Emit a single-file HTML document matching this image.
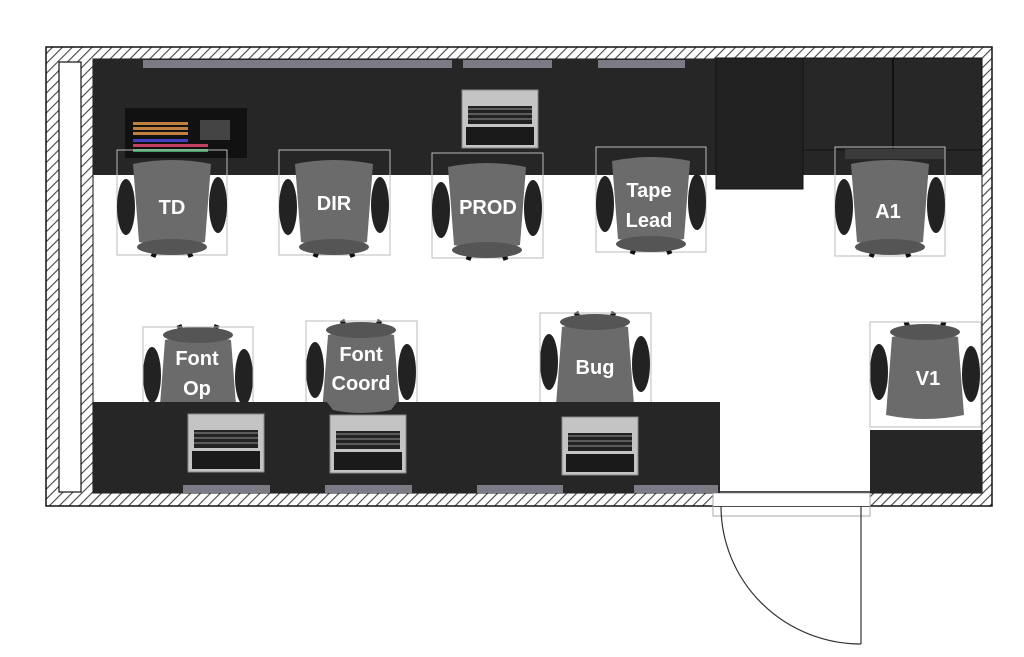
<!DOCTYPE html>
<html><head><meta charset="utf-8"><style>
html,body{margin:0;padding:0;background:#fff;}
svg{display:block;}
text{font-family:"Liberation Sans",sans-serif;fill:#fff;font-size:20px;font-weight:bold;text-anchor:middle;}
</style></head><body>
<svg width="1024" height="657" viewBox="0 0 1024 657" xmlns="http://www.w3.org/2000/svg">
<defs>
<pattern id="h" width="7" height="7" patternUnits="userSpaceOnUse" patternTransform="rotate(45)">
<rect width="7" height="7" fill="#fff"/><rect width="1.1" height="7" fill="#444"/>
</pattern>
<g id="chair">
<ellipse cx="9" cy="55" rx="9" ry="28" fill="#222"/>
<ellipse cx="101" cy="53" rx="9" ry="28" fill="#222"/>
<path d="M40,95 L36,105 M70,95 L74,105" stroke="#111" stroke-width="5"/>
<path d="M16,12 Q55,4 94,12 L88,90 Q55,98 22,90 Z" fill="#6b6b6b"/>
<ellipse cx="55" cy="95" rx="35" ry="8" fill="#555"/>
</g>
<g id="laptop">
<rect x="0" y="0" width="76" height="58" fill="#c4c4c4" stroke="#888" stroke-width="1"/>
<rect x="4" y="3" width="68" height="18" fill="#1a1a1a"/>
<rect x="6" y="24" width="64" height="18" fill="#222"/>
<g stroke="#bbb" stroke-width="0.8">
<line x1="6" y1="29" x2="70" y2="29"/><line x1="6" y1="34" x2="70" y2="34"/><line x1="6" y1="39" x2="70" y2="39"/>
</g>
</g>
</defs>
<rect x="46" y="47" width="946" height="459" fill="url(#h)" stroke="#111" stroke-width="1.5"/>
<rect x="93" y="59" width="889" height="434" fill="#fff" stroke="#111" stroke-width="1"/>
<rect x="59" y="62" width="22" height="430" fill="#fff" stroke="#111" stroke-width="1.2"/>
<rect x="713" y="492" width="157" height="14" fill="#fff"/>
<line x1="720" y1="492" x2="870" y2="492" stroke="#111" stroke-width="1.5"/>
<rect x="713" y="493" width="157" height="23" fill="none" stroke="#aaa" stroke-width="1"/>
<line x1="861" y1="506" x2="861" y2="644" stroke="#333" stroke-width="1.2"/>
<path d="M721,506 A140,138 0 0 0 861,644" fill="none" stroke="#333" stroke-width="1.2"/>
<rect x="93" y="59" width="889" height="116" fill="#262626"/>
<rect x="716" y="58" width="87" height="131" fill="#222" stroke="#111"/>
<rect x="803" y="58" width="179" height="92" fill="#272727" stroke="#111"/>
<line x1="893" y1="58" x2="893" y2="150" stroke="#111" stroke-width="2"/>
<rect x="845" y="149" width="100" height="10" fill="#3a3a3a"/>
<rect x="143" y="60" width="309" height="8" fill="#7b7b85"/>
<rect x="463" y="60" width="89" height="8" fill="#7b7b85"/>
<rect x="598" y="60" width="87" height="8" fill="#7b7b85"/>
<rect x="125" y="108" width="122" height="50" fill="#111"/>
<rect x="133" y="122" width="55" height="3" fill="#c08040"/>
<rect x="133" y="127" width="55" height="3" fill="#c08040"/>
<rect x="133" y="132" width="55" height="3" fill="#c08040"/>
<rect x="133" y="139" width="55" height="3" fill="#4040c0"/>
<rect x="133" y="144" width="75" height="3" fill="#c04060"/>
<rect x="133" y="149" width="75" height="3" fill="#40a060"/>
<rect x="200" y="120" width="30" height="20" fill="#444"/>
<use href="#laptop" transform="translate(538,148) rotate(180)"/>
<g fill="none" stroke="#bbb" stroke-width="1">
<rect x="117" y="150" width="110" height="105"/><rect x="279" y="150" width="111" height="105"/>
<rect x="432" y="153" width="111" height="105"/><rect x="596" y="147" width="110" height="105"/>
<rect x="835" y="147" width="110" height="109"/>
</g>
<use href="#chair" transform="translate(117,152)"/>
<use href="#chair" transform="translate(279,152)"/>
<use href="#chair" transform="translate(432,155)"/>
<use href="#chair" transform="translate(596,149)"/>
<use href="#chair" transform="translate(835,152)"/>
<text x="172" y="214">TD</text>
<text x="334" y="210">DIR</text>
<text x="488" y="214">PROD</text>
<text x="649" y="197">Tape</text>
<text x="649" y="227">Lead</text>
<text x="888" y="218">A1</text>
<use href="#chair" transform="translate(143,430) scale(1,-1)"/>
<use href="#chair" transform="translate(306,425) scale(1,-1)"/>
<use href="#chair" transform="translate(540,417) scale(1,-1)"/>
<use href="#chair" transform="translate(870,427) scale(1,-1)"/>
<g fill="none" stroke="#bbb" stroke-width="1">
<rect x="143" y="327" width="110" height="76"/><rect x="306" y="321" width="111" height="104"/>
<rect x="540" y="313" width="111" height="104"/><rect x="870" y="322" width="111" height="105"/>
</g>
<rect x="93" y="402" width="627" height="91" fill="#262626"/>
<path d="M327,402 L333,410 Q361,416 391,410 L397,402 Z" fill="#6b6b6b"/>
<rect x="870" y="430" width="112" height="63" fill="#262626"/>
<rect x="183" y="485" width="87" height="8" fill="#7b7b85"/>
<rect x="325" y="485" width="87" height="8" fill="#7b7b85"/>
<rect x="477" y="485" width="86" height="8" fill="#7b7b85"/>
<rect x="634" y="485" width="84" height="8" fill="#7b7b85"/>
<use href="#laptop" transform="translate(264,472) rotate(180)"/>
<use href="#laptop" transform="translate(406,473) rotate(180)"/>
<use href="#laptop" transform="translate(638,475) rotate(180)"/>
<text x="197" y="365">Font</text>
<text x="197" y="395">Op</text>
<text x="361" y="361">Font</text>
<text x="361" y="390">Coord</text>
<text x="595" y="374">Bug</text>
<text x="928" y="385">V1</text>
</svg>
</body></html>
